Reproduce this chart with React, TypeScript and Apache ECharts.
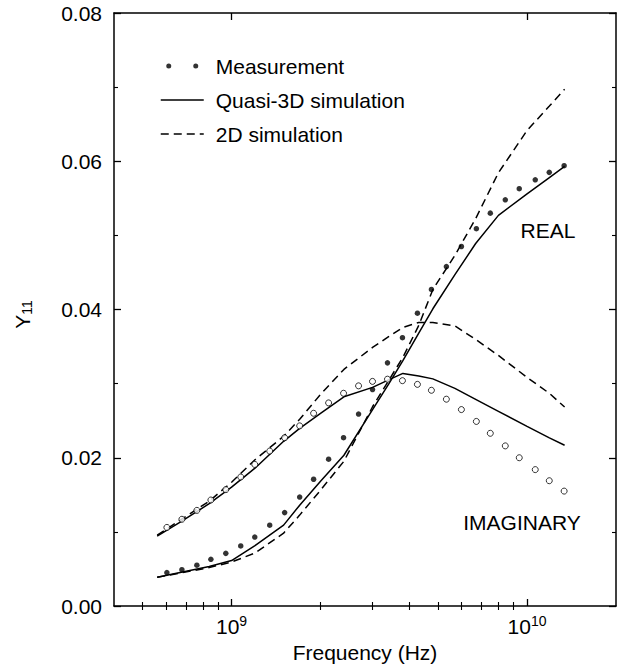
import React, { useEffect, useRef } from "react";
import * as echarts from "echarts";

const FONT = '"Liberation Sans", Arial, Helvetica, sans-serif';

// Measurement frequencies (GHz)
const measFreqGHz = [
  0.604, 0.679, 0.763, 0.851, 0.956, 1.074, 1.198, 1.346, 1.512, 1.7, 1.895, 2.13, 2.393, 2.69,
  2.999, 3.37, 3.787, 4.256, 4.746, 5.333, 5.995, 6.737, 7.51, 8.44, 9.41, 10.66, 11.89, 13.35,
];
// Measured Y11, real part (filled dots)
const measReal = [
  0.0045, 0.0049, 0.0055, 0.0063, 0.0071, 0.0081, 0.0093, 0.0109, 0.0126, 0.0147, 0.0171, 0.0198,
  0.0227, 0.0259, 0.0292, 0.0328, 0.0362, 0.0395, 0.0427, 0.0458, 0.0485, 0.0509, 0.053, 0.0548,
  0.0563, 0.0575, 0.0585, 0.0594,
];
// Measured Y11, imaginary part (open circles)
const measImag = [
  0.0106, 0.0117, 0.0129, 0.0143, 0.0157, 0.0174, 0.0191, 0.0209, 0.0227, 0.0243, 0.026, 0.0274,
  0.0287, 0.0297, 0.0303, 0.0306, 0.0304, 0.0299, 0.0291, 0.0279, 0.0265, 0.0249, 0.0233, 0.0216,
  0.02, 0.0184, 0.0169, 0.0155,
];

// Simulation frequencies (GHz)
const simFreqGHz = [
  0.56, 0.67, 0.84, 1.0, 1.2, 1.5, 1.7, 2.0, 2.4, 3.0, 3.4, 3.8, 4.3, 4.8, 5.7, 6.7, 8.0, 10, 11.9, 13.4,
];
const q3dReal = [
  0.00387, 0.00451, 0.00532, 0.00613, 0.00815, 0.01091, 0.0136, 0.01684, 0.02034, 0.0265, 0.02994,
  0.0331, 0.0368, 0.0401, 0.0447, 0.0489, 0.0527, 0.0556, 0.0578, 0.0593,
];
const q3dImag = [
  0.00943, 0.01131, 0.0138, 0.01603, 0.01859, 0.02222, 0.02397, 0.026, 0.02822, 0.02949, 0.03051,
  0.03138, 0.03104, 0.03064, 0.02936, 0.02788, 0.02626, 0.02424, 0.02269, 0.02168,
];
const sim2dReal = [
  0.00387, 0.00444, 0.00519, 0.00593, 0.00714, 0.00983, 0.01226, 0.01562, 0.01953, 0.02688,
  0.03041, 0.03354, 0.03785, 0.0427, 0.04731, 0.05226, 0.05845, 0.06415, 0.06745, 0.06972,
];
const sim2dImag = [
  0.00956, 0.01158, 0.01414, 0.0167, 0.01973, 0.0229, 0.02519, 0.02855, 0.03192, 0.03488, 0.03634,
  0.03758, 0.03825, 0.03825, 0.03778, 0.03596, 0.0338, 0.03084, 0.02869, 0.02684,
];

const majorTicksHz = [1e9, 1e10];
const minorTicksHz = [5e8, 6e8, 7e8, 8e8, 9e8, 2e9, 3e9, 4e9, 5e9, 6e9, 7e9, 8e9, 9e9];

const pairs = (f: number[], v: number[]) => f.map((g, i) => [g * 1e9, v[i]]);

const MEAS_ICON =
  "path://M0,0M43,14M5.5,7a2.5,2.5 0 1,0 5,0a2.5,2.5 0 1,0 -5,0ZM32.5,7a2.5,2.5 0 1,0 5,0a2.5,2.5 0 1,0 -5,0Z";

export default function App() {
  const ref = useRef<HTMLDivElement>(null);

  useEffect(() => {
    document.body.style.margin = "0";
    if (!ref.current) return;
    const chart = echarts.init(ref.current, undefined, { renderer: "svg" });

    const axisLine = { show: true, onZero: false, lineStyle: { color: "#000", width: 1.5 } };
    const majorTick = {
      show: true,
      inside: true,
      length: 7,
      customValues: majorTicksHz,
      lineStyle: { color: "#000", width: 1.3 },
    };
    const minorTickX = {
      show: true,
      inside: true,
      length: 4,
      customValues: minorTicksHz,
      lineStyle: { color: "#000", width: 1.1 },
    };
    const xBase = {
      type: "log",
      logBase: 10,
      min: 4e8,
      max: 2e10,
      gridIndex: 0,
      splitLine: { show: false },
      minorTick: { show: false },
      minorSplitLine: { show: false },
    };
    const yBase = {
      type: "value",
      min: 0,
      max: 0.08,
      interval: 0.02,
      splitLine: { show: false },
      axisLine,
      axisTick: { show: true, inside: true, length: 7, lineStyle: { color: "#000", width: 1.3 } },
      minorTick: { show: true, splitNumber: 2, length: 4, lineStyle: { color: "#000", width: 1.1 } },
    };

    const textBase = { fontFamily: FONT, color: "#000" };

    chart.setOption({
      animation: false,
      backgroundColor: "#fff",
      textStyle: { fontFamily: FONT },
      grid: { left: 114, right: 2, top: 13, bottom: 63, containLabel: false, outerBoundsMode: "none" },
      legend: {
        orient: "vertical",
        left: 160,
        top: 54,
        padding: 0,
        itemGap: 10,
        itemWidth: 43,
        itemHeight: 14,
        selectedMode: false,
        textStyle: { ...textBase, fontSize: 21, lineHeight: 24, padding: [0, 0, 0, 7] },
        lineStyle: { width: 1.5 },
        data: [
          { name: "Measurement", icon: MEAS_ICON },
          { name: "Quasi-3D simulation", itemStyle: { opacity: 0 } },
          { name: "2D simulation", itemStyle: { opacity: 0 } },
        ],
      },
      xAxis: [
        {
          ...xBase,
          position: "bottom",
          name: "Frequency (Hz)",
          nameLocation: "middle",
          nameGap: 36,
          nameTextStyle: { ...textBase, fontSize: 21 },
          axisLine,
          axisTick: majorTick,
          axisLabel: {
            show: true,
            customValues: majorTicksHz,
            margin: 8,
            formatter: (v: number) => `{b|10}{s|${Math.round(Math.log10(v))}}`,
            rich: {
              b: { ...textBase, fontSize: 21, lineHeight: 24 },
              s: { ...textBase, fontSize: 14, lineHeight: 12, verticalAlign: "top" },
            },
          },
        },
        { ...xBase, position: "bottom", axisLine: { show: false }, axisTick: minorTickX, axisLabel: { show: false } },
        { ...xBase, position: "top", axisLine, axisTick: majorTick, axisLabel: { show: false } },
        { ...xBase, position: "top", axisLine: { show: false }, axisTick: minorTickX, axisLabel: { show: false } },
      ],
      yAxis: [
        {
          ...yBase,
          position: "left",
          name: "{y|Y}{s|11}",
          nameLocation: "middle",
          nameGap: 80,
          nameRotate: 90,
          nameTextStyle: {
            ...textBase,
            padding: [0, 10, 0, 0],
            rich: {
              y: { ...textBase, fontSize: 21, lineHeight: 24 },
              s: { ...textBase, fontSize: 14, lineHeight: 14, verticalAlign: "bottom" },
            },
          },
          axisLabel: {
            ...textBase,
            fontSize: 21,
            margin: 12,
            formatter: (v: number) => v.toFixed(2),
          },
        },
        { ...yBase, position: "right", axisLabel: { show: false } },
      ],
      graphic: [
        {
          type: "text",
          x: 548,
          y: 230,
          style: { text: "REAL", fontSize: 21, fontFamily: FONT, fill: "#000", align: "center", verticalAlign: "middle" },
        },
        {
          type: "text",
          x: 522,
          y: 522,
          style: { text: "IMAGINARY", fontSize: 21, fontFamily: FONT, fill: "#000", align: "center", verticalAlign: "middle" },
        },
      ],
      series: [
        {
          name: "Measurement",
          type: "scatter",
          data: pairs(measFreqGHz, measReal),
          symbol: "circle",
          symbolSize: 5.5,
          itemStyle: { color: "#000" },
          z: 4,
        },
        {
          name: "Measurement",
          type: "scatter",
          data: pairs(measFreqGHz, measImag),
          symbol: "circle",
          symbolSize: 6,
          itemStyle: { color: "#fff", borderColor: "#000", borderWidth: 1 },
          z: 4,
        },
        {
          name: "Quasi-3D simulation",
          type: "line",
          data: pairs(simFreqGHz, q3dReal),
          symbol: "none",
          lineStyle: { color: "#000", width: 1.5, type: "solid" },
          itemStyle: { color: "#000" },
          z: 3,
        },
        {
          name: "Quasi-3D simulation",
          type: "line",
          data: pairs(simFreqGHz, q3dImag),
          symbol: "none",
          lineStyle: { color: "#000", width: 1.5, type: "solid" },
          itemStyle: { color: "#000" },
          z: 3,
        },
        {
          name: "2D simulation",
          type: "line",
          data: pairs(simFreqGHz, sim2dReal),
          symbol: "none",
          lineStyle: { color: "#000", width: 1.5, type: [8, 5] },
          itemStyle: { color: "#000" },
          z: 3,
        },
        {
          name: "2D simulation",
          type: "line",
          data: pairs(simFreqGHz, sim2dImag),
          symbol: "none",
          lineStyle: { color: "#000", width: 1.5, type: [8, 5] },
          itemStyle: { color: "#000" },
          z: 3,
        },
      ],
    } as any);

    return () => {
      chart.dispose();
    };
  }, []);

  return <div ref={ref} style={{ width: 618, height: 669 }} />;
}
